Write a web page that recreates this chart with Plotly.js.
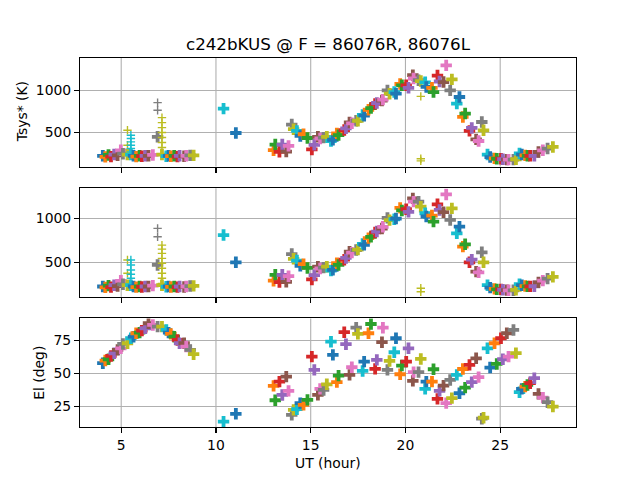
<!DOCTYPE html>
<html>
<head>
<meta charset="utf-8">
<script src="https://cdn.plot.ly/plotly-3.0.1.min.js"></script>
<style>html,body{margin:0;padding:0;background:#fff;}</style>
</head>
<body>
<div id="chart" style="width:640px;height:480px;"></div>
<script>
// UT (hour) of each scan
const scanUT = [
  4.03, 4.16, 4.33, 4.46, 4.63, 4.81, 4.98, 5.09, 5.33, 5.51,
  5.65, 5.79, 5.97, 6.09, 6.27, 6.44, 6.67, 6.92, 7.15, 7.38,
  7.50, 7.62, 7.80, 7.97, 8.08, 8.32, 8.43, 8.64, 8.82,
  10.40, 11.05,
  13.04, 13.13, 13.35, 13.50, 13.71, 13.83, 14.00, 14.10, 14.27, 14.45,
  14.62, 14.83, 15.06, 15.19, 15.38, 15.50, 15.68, 15.85, 16.07, 16.17,
  16.38, 16.47, 16.77, 16.86, 17.05, 17.17, 17.40, 17.49, 17.74, 17.82,
  18.05, 18.18, 18.40, 18.49, 18.76, 18.81, 19.05, 19.16, 19.41, 19.50,
  19.72, 19.81, 20.04, 20.16, 20.39, 20.43, 20.69, 20.81, 21.04, 21.10,
  21.40, 21.48, 21.69, 21.80, 22.01, 22.15, 22.36, 22.45, 22.71, 22.85,
  23.03, 23.15, 23.38, 23.50, 23.73, 23.86, 24.03, 24.12, 24.33, 24.47,
  24.70, 24.82, 25.04, 25.14, 25.35, 25.44, 25.70, 25.83, 26.02, 26.14,
  26.32, 26.44, 26.58, 26.80, 27.02, 27.25, 27.50, 27.78
];
// Tsys* (K) at 86076R, one per scan
const tsysR = [
  225, 212, 235, 215, 240, 230, 290, 250, 240, 240,
  225, 215, 225, 220, 225, 225, 235, 450, 240, 220,
  225, 220, 225, 215, 225, 220, 225, 230, 230,
  784, 495,
  291, 358, 271, 358, 275, 342, 595, 540, 520, 460,
  480, 436, 300, 355, 450, 430, 440, 450, 400, 415,
  490, 470, 530, 550, 620, 610, 640, 640, 710, 700,
  770, 790, 840, 850, 880, 890, 1000, 960, 980, 960,
  1075, 1060, 1060, 1030, 1180, 1140, 1120, 1110, 1095, 1040,
  1030, 980, 1175, 1105, 1098, 1296, 1000, 1130, 843, 921,
  685, 725, 520, 555, 420, 400, 625, 527, 240, 210,
  195, 190, 190, 185, 180, 180, 180, 184, 252, 240,
  230, 225, 225, 225, 270, 290, 311, 330
];
// Tsys* (K) at 86076L, one per scan
const tsysL = [
  225, 215, 235, 218, 240, 230, 290, 250, 240, 240,
  225, 218, 225, 220, 225, 225, 235, 470, 240, 222,
  225, 220, 225, 218, 225, 220, 225, 230, 232,
  810, 500,
  291, 358, 275, 358, 278, 342, 594, 540, 520, 460,
  480, 436, 305, 355, 450, 430, 440, 450, 405, 415,
  490, 470, 530, 550, 620, 610, 640, 645, 710, 700,
  775, 790, 840, 850, 885, 904, 1006, 980, 990, 998,
  1119, 1090, 1104, 1074, 1227, 1190, 1190, 1133, 1058, 1021,
  1032, 963, 1160, 1096, 1070, 1272, 982, 1114, 830, 906,
  679, 705, 500, 531, 394, 386, 614, 500, 240, 212,
  198, 192, 192, 188, 184, 182, 182, 186, 252, 240,
  230, 226, 226, 228, 272, 292, 315, 335
];
// Elevation (deg), one per scan
const elev = [
  57.6, 59.6, 60.6, 63.1, 65.1, 67.7, 68.9, 72.2, 72.7, 76.5,
  77.7, 80.3, 80.8, 82.3, 84.1, 87.9, 86.6, 85.3, 85.3, 82.8,
  80.8, 79.8, 77.7, 75.2, 72.7, 72.7, 70.2, 67.7, 64.4,
  13.3, 19.2,
  40.4, 29.5, 43.6, 33.5, 47.4, 36.6, 18.4, 22.2, 22.7, 27.3,
  26.0, 29.8, 62.6, 52.5, 33.6, 38.1, 37.3, 41.6, 73.9, 63.9,
  43.2, 48.2, 81.1, 72.0, 48.7, 54.5, 84.5, 79.8, 51.7, 58.8,
  80.3, 87.3, 53.3, 60.1, 73.5, 84.5, 52.5, 59.3, 65.9, 76.5,
  49.2, 55.8, 58.8, 68.9, 44.2, 50.8, 50.8, 60.8, 38.1, 43.6,
  43.6, 53.0, 30.5, 36.6, 40.6, 27.3, 44.9, 31.1, 48.7, 34.8,
  53.2, 39.1, 56.3, 43.2, 61.3, 47.0, 15.5, 16.2, 68.9, 54.3,
  72.7, 57.0, 76.5, 60.6, 80.3, 62.6, 82.8, 65.2, 35.6, 38.1,
  39.8, 41.1, 42.4, 46.2, 34.3, 31.5, 28.0, 24.7
];
// Extra scattered Tsys readings inside some scans (scan index, value)
const spikeScanR = [8, 8, 9, 9, 9, 9, 9, 9, 17, 17, 18, 18, 18, 18, 18, 18, 18, 78, 78, 78];
const spikeValR  = [527, 350, 468, 429, 390, 350, 311, 272, 855, 764, 677, 618, 559, 500, 441, 382, 323, 929, 190, 165];
const spikeScanL = [8, 8, 9, 9, 9, 9, 9, 17, 17, 18, 18, 18, 18, 18, 18, 18, 18, 18, 78, 78];
const spikeValL  = [526, 375, 526, 470, 412, 365, 318, 886, 791, 696, 650, 602, 545, 489, 432, 375, 318, 261, 205, 166];

// Tick values
const xTicks = [5, 10, 15, 20, 25];
const tsysTicks = [500, 1000];
const elTicks = [25, 50, 75];

const tab10 = ['#1f77b4','#ff7f0e','#2ca02c','#d62728','#9467bd','#8c564b','#e377c2','#7f7f7f','#bcbd22','#17becf'];

function buildTrace(vals, spikeScan, spikeVal, xa, ya) {
  const x = [], y = [], col = [], sym = [], size = [], lw = [];
  for (let i = 0; i < scanUT.length; i++) {
    const c = tab10[i % 10];
    x.push(scanUT[i]); y.push(vals[i]); col.push(c); sym.push('cross'); size.push(9.5); lw.push(0);
    if (spikeScan) {
      for (let k = 0; k < spikeScan.length; k++) {
        if (spikeScan[k] === i) {
          x.push(scanUT[i]); y.push(spikeVal[k]); col.push(c); sym.push('cross-thin'); size.push(6); lw.push(1.4);
        }
      }
    }
  }
  return {
    type: 'scatter', mode: 'markers', x: x, y: y, xaxis: xa, yaxis: ya,
    showlegend: false, hoverinfo: 'skip',
    marker: {color: col, symbol: sym, size: size, opacity: 1, line: {color: col, width: lw}}
  };
}

const traces = [
  buildTrace(tsysR, spikeScanR, spikeValR, 'x3', 'y3'),
  buildTrace(tsysL, spikeScanL, spikeValL, 'x2', 'y2'),
  buildTrace(elev, null, null, 'x', 'y')
];

const fontFam = 'DejaVu Sans, sans-serif';
const tickFont = {family: fontFam, size: 13.9, color: '#000'};
function xAxis(anchor, labels) {
  return {
    anchor: anchor, domain: [0, 1], range: [2.825, 29.0],
    tickvals: xTicks, showticklabels: labels,
    ticks: 'outside', ticklen: 4.9, tickwidth: 1.1, tickcolor: '#000',
    showline: true, mirror: true, linecolor: '#000', linewidth: 1.1,
    showgrid: false, zeroline: false,
    tickfont: tickFont, automargin: false
  };
}
function yAxis(anchor, domain, range, tickvals) {
  return {
    anchor: anchor, domain: domain, range: range, tickvals: tickvals,
    ticks: 'outside', ticklen: 4.9, tickwidth: 1.1, tickcolor: '#000',
    showline: true, mirror: true, linecolor: '#000', linewidth: 1.1,
    showgrid: true, gridcolor: '#b0b0b0', gridwidth: 1.1, zeroline: false,
    tickfont: tickFont, automargin: false
  };
}

// vertical grid lines drawn as shapes, one per tick per panel
const shapes = [];
[['x', 'y domain'], ['x2', 'y2 domain'], ['x3', 'y3 domain']].forEach(function (ref) {
  xTicks.forEach(function (t) {
    shapes.push({type: 'line', layer: 'below', xref: ref[0], yref: ref[1],
                 x0: t, x1: t, y0: 0, y1: 1, line: {color: '#b0b0b0', width: 1.1}});
  });
});

const layout = {
  width: 640, height: 480,
  margin: {l: 80, r: 64, t: 57.6, b: 52.8, pad: 0},
  paper_bgcolor: '#fff', plot_bgcolor: '#fff', showlegend: false,
  title: {text: 'c242bKUS @ F = 86076R, 86076L', font: {family: fontFam, size: 16.7, color: '#000'},
          xref: 'paper', x: 0.5, xanchor: 'center', yref: 'container', y: 1 - 44/480, yanchor: 'middle'},
  xaxis: xAxis('y', true),
  xaxis2: xAxis('y2', false),
  xaxis3: xAxis('y3', false),
  yaxis: yAxis('x', [0, 0.2941], [9.2, 91.5], elTicks),
  yaxis2: yAxis('x2', [0.3529, 0.6471], [108, 1343], tsysTicks),
  yaxis3: yAxis('x3', [0.7059, 1], [98, 1383], tsysTicks),
  shapes: shapes,
  annotations: [
    {text: 'UT (hour)', xref: 'paper', yref: 'paper', x: 0.5, y: -(463 - 427.2)/369.6,
     xanchor: 'center', yanchor: 'middle', showarrow: false, font: {family: fontFam, size: 13.9, color: '#000'}},
    {text: 'Tsys* (K)', xref: 'paper', yref: 'paper', x: (22 - 80)/496, y: 0.853, textangle: -90,
     xanchor: 'center', yanchor: 'middle', showarrow: false, font: {family: fontFam, size: 13.9, color: '#000'}},
    {text: 'El (deg)', xref: 'paper', yref: 'paper', x: (39 - 80)/496, y: 0.147, textangle: -90,
     xanchor: 'center', yanchor: 'middle', showarrow: false, font: {family: fontFam, size: 13.9, color: '#000'}}
  ]
};

Plotly.newPlot('chart', traces, layout, {staticPlot: true, displayModeBar: false});
</script>
</body>
</html>
